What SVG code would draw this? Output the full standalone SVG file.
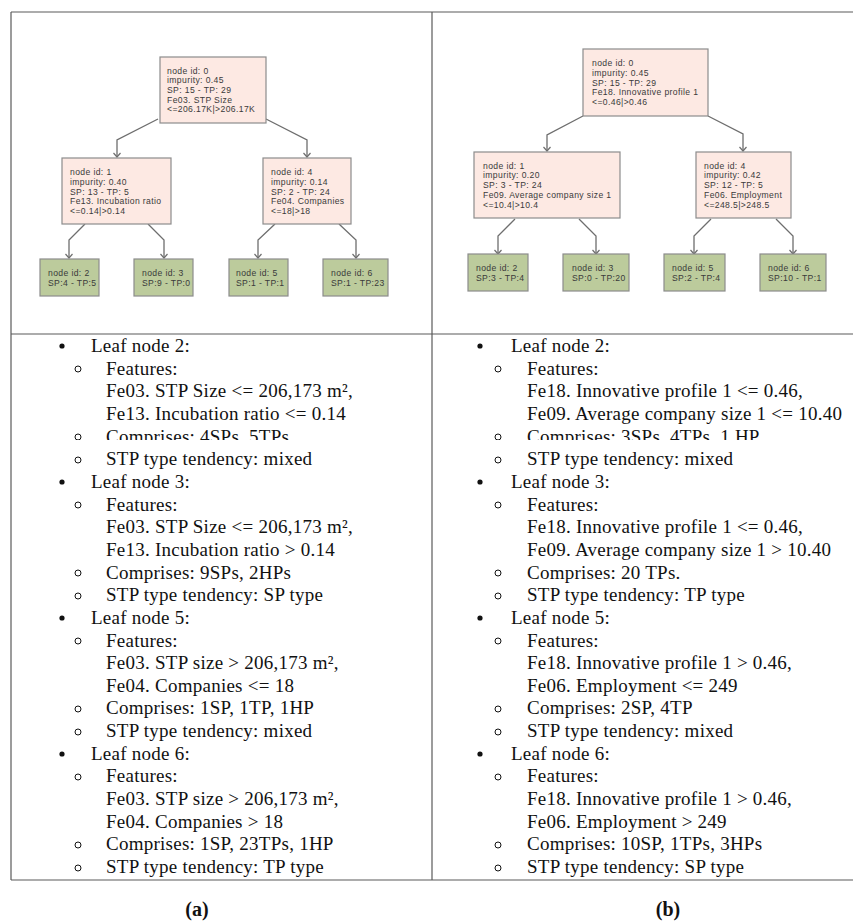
<svg xmlns="http://www.w3.org/2000/svg" width="853" height="921" viewBox="0 0 853 921">
<style>
.frame{stroke:#5a5a5a;stroke-width:1.2;fill:none}
.inner{fill:#fde9e3;stroke:#8c8c8c;stroke-width:1.2}
.leaf{fill:#bccb9c;stroke:#8c8c8c;stroke-width:1.2}
.nt{font-family:"Liberation Sans",Arial,sans-serif;font-size:8.6px;letter-spacing:0.38px;fill:#3a3a3a}
.conn path{fill:none;stroke:#6e6e6e;stroke-width:1.3;marker-end:url(#arr)}
.lt{font-family:"Liberation Serif","Times New Roman",serif;font-size:19px;fill:#111;letter-spacing:0.25px}
.cap{font-family:"Liberation Serif","Times New Roman",serif;font-size:20px;font-weight:bold;fill:#111;text-anchor:middle}
.b1{fill:#111}
.b2{fill:none;stroke:#111;stroke-width:1}
</style>
<defs>
<marker id="arr" markerUnits="userSpaceOnUse" markerWidth="10" markerHeight="10" refX="5" refY="5" orient="auto" viewBox="0 0 10 10">
<path d="M1,1.5 L5,5 L1,8.5" fill="none" stroke="#6e6e6e" stroke-width="1.2"/>
</marker>
<clipPath id="cutA"><rect x="0" y="420" width="432" height="20"/></clipPath>
<clipPath id="cutB"><rect x="432" y="420" width="421" height="20"/></clipPath>
</defs>
<rect width="853" height="921" fill="#fff"/>
<g id="table">
<line class="frame" x1="11" y1="12" x2="853" y2="12"/>
<line class="frame" x1="11" y1="334" x2="853" y2="334"/>
<line class="frame" x1="11" y1="880" x2="853" y2="880"/>
<line class="frame" x1="11" y1="12" x2="11" y2="880"/>
<line class="frame" x1="432" y1="12" x2="432" y2="880"/>
</g>
<g id="connectors" class="conn">
<path d="M158,119 L117,140 L117,157"/>
<path d="M266,119 L307,140 L307,157"/>
<path d="M85,224 L69,240 L69,258"/>
<path d="M148,224 L164,240 L164,258"/>
<path d="M275,224 L258,240 L258,258"/>
<path d="M339,224 L356,240 L356,258"/>
<path d="M583,116 L547,135 L547,151"/>
<path d="M708,116 L743,134 L743,151"/>
<path d="M515,219 L498,236 L498,254"/>
<path d="M579,219 L596,236 L596,254"/>
<path d="M711,219 L694,236 L694,254"/>
<path d="M776,219 L793,236 L793,254"/>
</g>
<g id="a-node0">
<rect class="inner" x="160" y="57" width="106" height="66"/>
<text class="nt" y="73.5"><tspan x="167">node id: 0</tspan><tspan x="167" dy="9.7">impurity: 0.45</tspan><tspan x="167" dy="9.7">SP: 15 - TP: 29</tspan><tspan x="167" dy="9.7">Fe03. STP Size</tspan><tspan x="167" dy="9.7">&lt;=206.17K|&gt;206.17K</tspan></text>
</g>
<g id="a-node1">
<rect class="inner" x="62" y="158" width="109" height="66"/>
<text class="nt" y="175.2"><tspan x="70">node id: 1</tspan><tspan x="70" dy="9.7">impurity: 0.40</tspan><tspan x="70" dy="9.7">SP: 13 - TP: 5</tspan><tspan x="70" dy="9.7">Fe13. Incubation ratio</tspan><tspan x="70" dy="9.7">&lt;=0.14|&gt;0.14</tspan></text>
</g>
<g id="a-node4">
<rect class="inner" x="263" y="158" width="88" height="66"/>
<text class="nt" y="175.2"><tspan x="271">node id: 4</tspan><tspan x="271" dy="9.7">impurity: 0.14</tspan><tspan x="271" dy="9.7">SP: 2 - TP: 24</tspan><tspan x="271" dy="9.7">Fe04. Companies</tspan><tspan x="271" dy="9.7">&lt;=18|&gt;18</tspan></text>
</g>
<g id="a-node2">
<rect class="leaf" x="40" y="259" width="59" height="37"/>
<text class="nt" y="276.2"><tspan x="48">node id: 2</tspan><tspan x="48" dy="9.7">SP:4 - TP:5</tspan></text>
</g>
<g id="a-node3">
<rect class="leaf" x="134" y="259" width="59" height="37"/>
<text class="nt" y="276.2"><tspan x="142">node id: 3</tspan><tspan x="142" dy="9.7">SP:9 - TP:0</tspan></text>
</g>
<g id="a-node5">
<rect class="leaf" x="229" y="259" width="59" height="37"/>
<text class="nt" y="276.2"><tspan x="236">node id: 5</tspan><tspan x="236" dy="9.7">SP:1 - TP:1</tspan></text>
</g>
<g id="a-node6">
<rect class="leaf" x="323" y="259" width="65" height="37"/>
<text class="nt" y="276.2"><tspan x="331">node id: 6</tspan><tspan x="331" dy="9.7">SP:1 - TP:23</tspan></text>
</g>
<g id="b-node0">
<rect class="inner" x="583" y="49" width="125" height="67"/>
<text class="nt" y="66"><tspan x="592">node id: 0</tspan><tspan x="592" dy="9.8">impurity: 0.45</tspan><tspan x="592" dy="9.8">SP: 15 - TP: 29</tspan><tspan x="592" dy="9.8">Fe18. Innovative profile 1</tspan><tspan x="592" dy="9.8">&lt;=0.46|&gt;0.46</tspan></text>
</g>
<g id="b-node1">
<rect class="inner" x="474" y="152" width="146" height="66"/>
<text class="nt" y="168.5"><tspan x="483">node id: 1</tspan><tspan x="483" dy="9.9">impurity: 0.20</tspan><tspan x="483" dy="9.9">SP: 3 - TP: 24</tspan><tspan x="483" dy="9.9">Fe09. Average company size 1</tspan><tspan x="483" dy="9.9">&lt;=10.4|&gt;10.4</tspan></text>
</g>
<g id="b-node4">
<rect class="inner" x="696" y="152" width="95" height="66"/>
<text class="nt" y="168.5"><tspan x="704">node id: 4</tspan><tspan x="704" dy="9.9">impurity: 0.42</tspan><tspan x="704" dy="9.9">SP: 12 - TP: 5</tspan><tspan x="704" dy="9.9">Fe06. Employment</tspan><tspan x="704" dy="9.9">&lt;=248.5|&gt;248.5</tspan></text>
</g>
<g id="b-node2">
<rect class="leaf" x="468" y="254" width="60" height="37"/>
<text class="nt" y="270.5"><tspan x="476">node id: 2</tspan><tspan x="476" dy="10">SP:3 - TP:4</tspan></text>
</g>
<g id="b-node3">
<rect class="leaf" x="563" y="254" width="66" height="37"/>
<text class="nt" y="270.5"><tspan x="572">node id: 3</tspan><tspan x="572" dy="10">SP:0 - TP:20</tspan></text>
</g>
<g id="b-node5">
<rect class="leaf" x="664" y="254" width="61" height="37"/>
<text class="nt" y="270.5"><tspan x="672">node id: 5</tspan><tspan x="672" dy="10">SP:2 - TP:4</tspan></text>
</g>
<g id="b-node6">
<rect class="leaf" x="760" y="254" width="66" height="37"/>
<text class="nt" y="270.5"><tspan x="768">node id: 6</tspan><tspan x="768" dy="10">SP:10 - TP:1</tspan></text>
</g>
<g id="list-a">
<circle class="b1" cx="62" cy="346" r="2.6"/>
<text class="lt" x="91" y="352">Leaf node 2:</text>
<circle class="b2" cx="78" cy="369" r="3"/>
<text class="lt" x="106" y="374.7">Features:</text>
<text class="lt" x="106" y="397.3">Fe03. STP Size &lt;= 206,173 m²,</text>
<text class="lt" x="106" y="420">Fe13. Incubation ratio &lt;= 0.14</text>
<g clip-path="url(#cutA)">
<circle class="b2" cx="78" cy="437" r="3"/>
<text class="lt" x="106" y="442.6">Comprises: 4SPs, 5TPs</text>
</g>
<circle class="b2" cx="78" cy="460" r="3"/>
<text class="lt" x="106" y="465.3">STP type tendency: mixed</text>
<circle class="b1" cx="62" cy="482" r="2.6"/>
<text class="lt" x="91" y="487.9">Leaf node 3:</text>
<circle class="b2" cx="78" cy="505" r="3"/>
<text class="lt" x="106" y="510.6">Features:</text>
<text class="lt" x="106" y="533.2">Fe03. STP Size &lt;= 206,173 m²,</text>
<text class="lt" x="106" y="555.9">Fe13. Incubation ratio &gt; 0.14</text>
<circle class="b2" cx="78" cy="573" r="3"/>
<text class="lt" x="106" y="578.5">Comprises: 9SPs, 2HPs</text>
<circle class="b2" cx="78" cy="596" r="3"/>
<text class="lt" x="106" y="601.2">STP type tendency: SP type</text>
<circle class="b1" cx="62" cy="618" r="2.6"/>
<text class="lt" x="91" y="623.8">Leaf node 5:</text>
<circle class="b2" cx="78" cy="641" r="3"/>
<text class="lt" x="106" y="646.5">Features:</text>
<text class="lt" x="106" y="669.1">Fe03. STP size &gt; 206,173 m²,</text>
<text class="lt" x="106" y="691.8">Fe04. Companies &lt;= 18</text>
<circle class="b2" cx="78" cy="709" r="3"/>
<text class="lt" x="106" y="714.4">Comprises: 1SP, 1TP, 1HP</text>
<circle class="b2" cx="78" cy="732" r="3"/>
<text class="lt" x="106" y="737.1">STP type tendency: mixed</text>
<circle class="b1" cx="62" cy="754" r="2.6"/>
<text class="lt" x="91" y="759.7">Leaf node 6:</text>
<circle class="b2" cx="78" cy="777" r="3"/>
<text class="lt" x="106" y="782.4">Features:</text>
<text class="lt" x="106" y="805">Fe03. STP size &gt; 206,173 m²,</text>
<text class="lt" x="106" y="827.7">Fe04. Companies &gt; 18</text>
<circle class="b2" cx="78" cy="845" r="3"/>
<text class="lt" x="106" y="850.3">Comprises: 1SP, 23TPs, 1HP</text>
<circle class="b2" cx="78" cy="868" r="3"/>
<text class="lt" x="106" y="873">STP type tendency: TP type</text>
</g>
<g id="list-b">
<circle class="b1" cx="480" cy="346" r="2.6"/>
<text class="lt" x="511" y="352">Leaf node 2:</text>
<circle class="b2" cx="498" cy="369" r="3"/>
<text class="lt" x="527" y="374.7">Features:</text>
<text class="lt" x="527" y="397.3">Fe18. Innovative profile 1 &lt;= 0.46,</text>
<text class="lt" x="527" y="420">Fe09. Average company size 1 &lt;= 10.40</text>
<g clip-path="url(#cutB)">
<circle class="b2" cx="498" cy="437" r="3"/>
<text class="lt" x="527" y="442.6">Comprises: 3SPs, 4TPs, 1 HP.</text>
</g>
<circle class="b2" cx="498" cy="460" r="3"/>
<text class="lt" x="527" y="465.3">STP type tendency: mixed</text>
<circle class="b1" cx="480" cy="482" r="2.6"/>
<text class="lt" x="511" y="487.9">Leaf node 3:</text>
<circle class="b2" cx="498" cy="505" r="3"/>
<text class="lt" x="527" y="510.6">Features:</text>
<text class="lt" x="527" y="533.2">Fe18. Innovative profile 1 &lt;= 0.46,</text>
<text class="lt" x="527" y="555.9">Fe09. Average company size 1 &gt; 10.40</text>
<circle class="b2" cx="498" cy="573" r="3"/>
<text class="lt" x="527" y="578.5">Comprises: 20 TPs.</text>
<circle class="b2" cx="498" cy="596" r="3"/>
<text class="lt" x="527" y="601.2">STP type tendency: TP type</text>
<circle class="b1" cx="480" cy="618" r="2.6"/>
<text class="lt" x="511" y="623.8">Leaf node 5:</text>
<circle class="b2" cx="498" cy="641" r="3"/>
<text class="lt" x="527" y="646.5">Features:</text>
<text class="lt" x="527" y="669.1">Fe18. Innovative profile 1 &gt; 0.46,</text>
<text class="lt" x="527" y="691.8">Fe06. Employment &lt;= 249</text>
<circle class="b2" cx="498" cy="709" r="3"/>
<text class="lt" x="527" y="714.4">Comprises: 2SP, 4TP</text>
<circle class="b2" cx="498" cy="732" r="3"/>
<text class="lt" x="527" y="737.1">STP type tendency: mixed</text>
<circle class="b1" cx="480" cy="754" r="2.6"/>
<text class="lt" x="511" y="759.7">Leaf node 6:</text>
<circle class="b2" cx="498" cy="777" r="3"/>
<text class="lt" x="527" y="782.4">Features:</text>
<text class="lt" x="527" y="805">Fe18. Innovative profile 1 &gt; 0.46,</text>
<text class="lt" x="527" y="827.7">Fe06. Employment &gt; 249</text>
<circle class="b2" cx="498" cy="845" r="3"/>
<text class="lt" x="527" y="850.3">Comprises: 10SP, 1TPs, 3HPs</text>
<circle class="b2" cx="498" cy="868" r="3"/>
<text class="lt" x="527" y="873">STP type tendency: SP type</text>
</g>
<g id="captions">
<text class="cap" x="197" y="916">(a)</text>
<text class="cap" x="668" y="916">(b)</text>
</g>
</svg>
